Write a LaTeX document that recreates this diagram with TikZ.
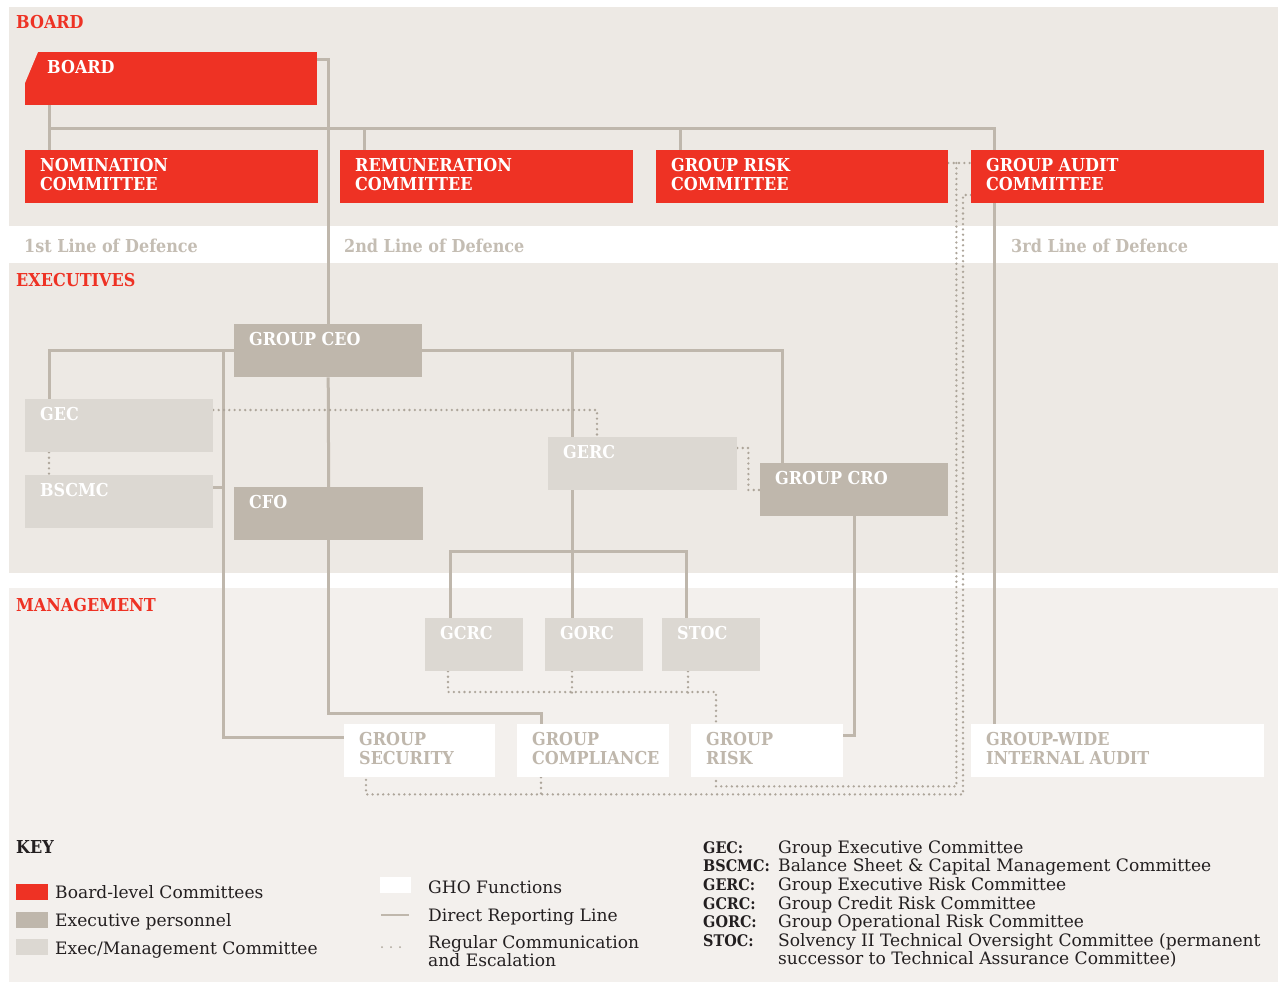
\documentclass[tikz,border=0pt]{standalone}
\usepackage{fontspec}
\setmainfont{DejaVu Serif}
\newfontfamily\govlabel{DejaVu Serif Condensed}
\usetikzlibrary{positioning}
\definecolor{govRed}{HTML}{EE3224}
\definecolor{govExec}{HTML}{BFB7AC}
\definecolor{govComm}{HTML}{DCD8D2}
\definecolor{govBand}{HTML}{EDE9E4}
\definecolor{govBandLight}{HTML}{F3F0ED}
\definecolor{govLine}{HTML}{BFB7AC}
\definecolor{govDot}{HTML}{ADA59A}
\definecolor{govInk}{HTML}{231F20}
\definecolor{govFaint}{HTML}{C4BDB3}
\pgfdeclarelayer{bands}
\pgfdeclarelayer{links}
\pgfsetlayers{bands,links,main}
\newcommand{\govsize}{\fontsize{17.1}{18.7}\selectfont}
\newcommand{\govbold}{\govlabel\fontsize{17.8}{19}\selectfont\bfseries}
\newcommand{\orgtext}[3][15pt]{\parbox[c][53pt][t]{#2}{\vspace*{8pt}\leftskip=#1\relax #3\par}}
\tikzset{
  every picture/.style={font=\govsize, text=govInk},
  org box/.style={anchor=north west, inner sep=0pt, font=\govbold, text=white},
  board box/.style={org box, fill=govRed},
  exec box/.style={org box, fill=govExec},
  comm box/.style={org box, fill=govComm},
  gho box/.style={org box, fill=white, text=govExec},
  section label/.style={anchor=base west, inner sep=0pt,
    font=\govbold, text=govRed},
  defence label/.style={anchor=base west, inner sep=0pt,
    font=\govbold, text=govFaint},
  key text/.style={anchor=base west, inner sep=0pt, font=\govsize},
  key term/.style={key text, font=\govlabel\fontsize{16}{18.7}\selectfont\bfseries},
  key swatch/.style={anchor=north west, inner sep=0pt,
    minimum width=32pt, minimum height=16pt},
  direct/.style={draw=govLine, line width=3pt},
  comm/.style={draw=govDot, line width=2.6pt, line cap=round,
    dash pattern=on 0pt off 5.3pt}
}
\begin{document}
\begin{tikzpicture}[x=1pt,y=-1pt]
  \useasboundingbox (0,0) rectangle (1278,982);
  \begin{pgfonlayer}{bands}
    \fill[white] (0,0) rectangle (1278,982);
    \fill[govBand] (9,7) rectangle (1278,226);
    \fill[govBand] (9,263) rectangle (1278,573);
    \fill[govBandLight] (9,588) rectangle (1278,982);
  \end{pgfonlayer}

  % bands and lines of defence
  \node[section label] (hboard) at (16,29) {BOARD};
  \node[section label] (hexec) at (16,286) {EXECUTIVES};
  \node[section label] (hmgmt) at (16,611) {MANAGEMENT};
  \node[defence label] (lod1) at (24,252) {1st Line of Defence};
  \node[defence label] (lod2) at (344,252) {2nd Line of Defence};
  \node[defence label] (lod3) at (1011,252) {3rd Line of Defence};

  % board level
  \node[board box] (board) at (25,52) {\orgtext[22pt]{292pt}{BOARD}};
  \fill[govBand] (board.north west) -- ++(13,0) -- ++(-13,31) -- cycle;
  \node[board box] (nom) at (25,150) {\orgtext{293pt}{NOMINATION\\COMMITTEE}};
  \node[board box] (rem) at (340,150) {\orgtext{293pt}{REMUNERATION\\COMMITTEE}};
  \node[board box] (grc) at (656,150) {\orgtext{292pt}{GROUP RISK\\COMMITTEE}};
  \node[board box] (gac) at (971,150) {\orgtext{293pt}{GROUP AUDIT\\COMMITTEE}};

  % executives
  \node[exec box] (ceo) at (234,324) {\orgtext{188pt}{GROUP CEO}};
  \node[comm box] (gec) at (25,399) {\orgtext{188pt}{GEC}};
  \node[comm box] (bscmc) at (25,475) {\orgtext{188pt}{BSCMC}};
  \node[exec box] (cfo) at (234,487) {\orgtext{189pt}{CFO}};
  \node[comm box] (gerc) at (548,437) {\orgtext{189pt}{GERC}};
  \node[exec box] (cro) at (760,463) {\orgtext{188pt}{GROUP CRO}};

  % management
  \node[comm box] (gcrc) at (425,618) {\orgtext{98pt}{GCRC}};
  \node[comm box] (gorc) at (545,618) {\orgtext{98pt}{GORC}};
  \node[comm box] (stoc) at (662,618) {\orgtext{98pt}{STOC}};
  \node[gho box] (gsec) at (344,724) {\orgtext{151pt}{GROUP\\SECURITY}};
  \node[gho box] (gcomp) at (517,724) {\orgtext{152pt}{GROUP\\COMPLIANCE}};
  \node[gho box] (grisk) at (691,724) {\orgtext{152pt}{GROUP\\RISK}};
  \node[gho box] (gwia) at (971,724) {\orgtext{293pt}{GROUP-WIDE\\INTERNAL AUDIT}};

  \begin{pgfonlayer}{links}
    % direct reporting lines
    \draw[direct] ([shift={(0,8)}]board.north east) -| (ceo.north);
    \draw[direct] ([shift={(24,0)}]nom.north west) -- ([shift={(24,0)}]board.south west);
    \draw[direct] ([shift={(24,-22)}]nom.north west) -| ([shift={(23,0)}]gwia.north west);
    \draw[direct] ([shift={(24,0)}]rem.north west) -- ++(0,-22);
    \draw[direct] ([shift={(24,0)}]grc.north west) -- ++(0,-22);
    \draw[direct] (ceo.west) -| ([shift={(24,0)}]gec.north west);
    \coordinate (ceoL) at ([shift={(-11,0)}]ceo.west);
    \draw[direct] (ceoL) |- ([shift={(0,13)}]gsec.north west);
    \draw[direct] ([shift={(0,12)}]bscmc.north east) -| (ceoL);
    \draw[direct] (ceo.south) -- (cfo.north);
    \draw[direct] (cfo.south) |- ([shift={(24,-11)}]gcomp.north west)
      -- ([shift={(24,0)}]gcomp.north west);
    \draw[direct] ([shift={(22,0)}]cro.north west) |- (ceo.east);
    \draw[direct] ([shift={(24,0)}]gerc.north west) |- (ceo.east);
    \draw[direct] ([shift={(24,0)}]gerc.south west) -| ([shift={(27,0)}]gorc.north west);
    \draw[direct] ([shift={(25,0)}]gcrc.north west) -- ++(0,-67)
      -| ([shift={(24,0)}]stoc.north west);
    \draw[direct] (cro.south) |- ([shift={(0,11)}]grisk.north east);
    % communication and escalation
    \draw[comm] ([shift={(0,11)}]gec.north east) -| ([shift={(49,0)}]gerc.north west);
    \draw[comm] ([shift={(24,0)}]gec.south west) -- ([shift={(24,0)}]bscmc.north west);
    \draw[comm] ([shift={(0,11)}]gerc.north east) -- ++(11,0)
      |- ([shift={(0,27)}]cro.north west);
    \draw[comm] ([shift={(23,0)}]gcrc.south west) |- ([shift={(25,-32)}]grisk.north west)
      -- ([shift={(25,0)}]grisk.north west);
    \draw[comm] ([shift={(27,0)}]gorc.south west) -- ++(0,22);
    \draw[comm] ([shift={(26,0)}]stoc.south west) -- ++(0,22);
    \draw[comm] ([shift={(0,13)}]grc.north east) -- ([shift={(0,13)}]gac.north west);
    \draw[comm] ([shift={(8,13)}]grc.north east) |- ([shift={(25,9)}]grisk.south west)
      -- ([shift={(25,0)}]grisk.south west);
    \draw[comm] ([shift={(0,45)}]gac.north west) -- ++(-8,0)
      |- ([shift={(22,17)}]gsec.south west) -- ([shift={(22,0)}]gsec.south west);
    \draw[comm] ([shift={(24,0)}]gcomp.south west) -- ++(0,17);
  \end{pgfonlayer}

  % key
  \node[key term, font=\govbold] (key) at (16,853) {KEY};
  \node[key swatch, fill=govRed] (swred) at (16,884) {};
  \node[key text] (kred) at (55,898) {Board-level Committees};
  \node[key swatch, fill=govExec] (swexec) at (16,912) {};
  \node[key text] (kexec) at (55,926) {Executive personnel};
  \node[key swatch, fill=govComm] (swcomm) at (16,939) {};
  \node[key text] (kcomm) at (55,954) {Exec/Management Committee};
  \node[key swatch, fill=white, minimum width=31pt] (swgho) at (380,877) {};
  \node[key text] (kgho) at (428,893) {GHO Functions};
  \coordinate (dirA) at (381,915);
  \coordinate (dirB) at (409,915);
  \draw[direct, line width=2.5pt] (dirA) -- (dirB);
  \node[key text] (kdir) at (428,921) {Direct Reporting Line};
  \coordinate (comA) at (382,947);
  \coordinate (comB) at (409,947);
  \draw[comm, line width=2pt, dash pattern=on 0pt off 9pt] (comA) -- (comB);
  \node[key text, anchor=north west, align=left] (kcom) at (428,935)
    {Regular Communication\\and Escalation};

  % abbreviations
  \foreach \abbr/\full [count=\i from 0] in {GEC/Group Executive Committee,
      BSCMC/Balance Sheet \& Capital Management Committee,
      GERC/Group Executive Risk Committee,
      GCRC/Group Credit Risk Committee,
      GORC/Group Operational Risk Committee}
  {
    \node[key term] (abbr\i) at (703,{853+18.7*\i}) {\abbr:};
    \node[key text] (full\i) at (778,{853+18.7*\i}) {\full};
  }
  \node[key term] (abbr5) at (703,946.5) {STOC:};
  \node[key text, anchor=north west, align=left] (full5) at (778,933)
    {Solvency II Technical Oversight Committee (permanent\\
     successor to Technical Assurance Committee)};
\end{tikzpicture}
\end{document}
